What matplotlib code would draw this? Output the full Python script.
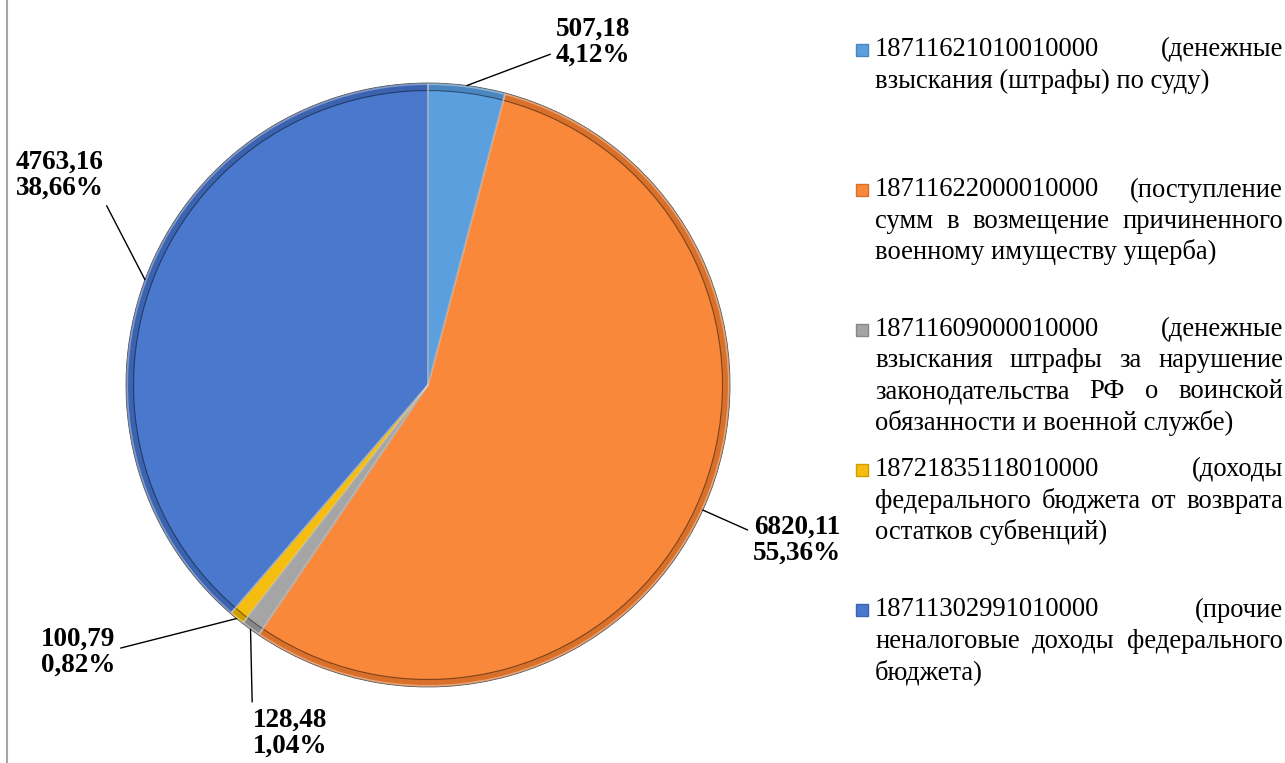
import matplotlib
matplotlib.use("Agg")
import matplotlib.pyplot as plt
from matplotlib.lines import Line2D
from matplotlib.patches import Rectangle
import numpy as np

plt.rcParams['font.family'] = ['Liberation Serif', 'DejaVu Serif']

# данные
codes = ['18711621010010000', '18711622000010000', '18711609000010000',
         '18721835118010000', '18711302991010000']
values = [507.18, 6820.11, 128.48, 100.79, 4763.16]
percents = ['4,12%', '55,36%', '1,04%', '0,82%', '38,66%']
colors = ['#5b9fdf', '#f9883a', '#a5a5a5', '#f5bd0f', '#4a78cc']
dark = ['#4a86c0', '#d9702a', '#888888', '#d09e00', '#3b63b0']

# строки легенды (как в оригинале, с переносами)
legend_lines = [
    [codes[0] + ' (денежные', 'взыскания (штрафы) по суду)'],
    [codes[1] + ' (поступление', 'сумм в возмещение причиненного',
     'военному имуществу ущерба)'],
    [codes[2] + ' (денежные', 'взыскания штрафы за нарушение',
     'законодательства РФ о воинской', 'обязанности и военной службе)'],
    [codes[3] + ' (доходы', 'федерального бюджета от возврата',
     'остатков субвенций)'],
    [codes[4] + ' (прочие', 'неналоговые доходы федерального',
     'бюджета)'],
]
legend_y = [50, 190, 330, 470, 610]

W, H = 1285, 763
cx, cy, R = 428, 385, 302

fig = plt.figure(figsize=(W / 100, H / 100), dpi=100)
ax = fig.add_axes([0, 0, 1, 1])

# пирог: подложка + основной цвет (имитация фаски)
ax.pie(values, colors=dark, startangle=90, counterclock=False, radius=1.0,
       wedgeprops=dict(edgecolor='#555555', linewidth=0.6))
ax.pie(values, colors=colors, startangle=90, counterclock=False,
       radius=0.975, wedgeprops=dict(edgecolor=(0, 0, 0, 0.45), linewidth=0.8))
ax.pie(values, colors=['none'] * 5, startangle=90, counterclock=False, radius=0.996,
       wedgeprops=dict(edgecolor=(1, 1, 1, 0.35), linewidth=1.2, fill=False))

ax.set_aspect('auto')
ax.set_xlim(-cx / R, (W - cx) / R)
ax.set_ylim(-(H - cy) / R, cy / R)
ax.axis('off')


def px(x, y):
    return (x - cx) / R, (cy - y) / R


# подписи данных
label_pos = [(593, 42), (797, 540), (290, 733), (78, 652), (60, 175)]
anchor_rel = [(0.0, 0.3), (0.0, 0.65), (0.0, 0.6), (1.0, 0.55), (1.0, 0.0)]
total = sum(values)
ang = 90.0
for i, v in enumerate(values):
    span = 360.0 * v / total
    mid = np.deg2rad(ang - span / 2)
    ang -= span
    xy = (np.cos(mid), np.sin(mid))
    txt = f"{v:.2f}".replace('.', ',') + "\n" + percents[i]
    ax.annotate(txt, xy=xy, xytext=px(*label_pos[i]), ha='center', va='center',
                fontsize=19.5, fontweight='bold', linespacing=1.05,
                arrowprops=dict(arrowstyle='-', color='black', lw=1,
                                relpos=anchor_rel[i], shrinkA=2, shrinkB=0))

# вертикальная линия слева
fig.add_artist(Line2D([7 / W, 7 / W], [0, 1], color='#a6a6a6', lw=1.5))

# легенда с выравниванием по ширине
renderer = fig.canvas.get_renderer()
x_left, x_right, step = 875, 1283, 31
for k, lines in enumerate(legend_lines):
    y0 = legend_y[k]
    fig.add_artist(Rectangle((856 / W, 1 - (y0 + 6) / H), 12 / W, 12 / H,
                             facecolor=colors[k], edgecolor=dark[k], lw=1,
                             transform=fig.transFigure))
    for j, line in enumerate(lines):
        yy = 1 - (y0 + j * step) / H
        if j == len(lines) - 1:
            fig.text(x_left / W, yy, line, fontsize=19.2, ha='left', va='center')
            continue
        words = line.split(' ')
        texts = [fig.text(0, yy, w, fontsize=19.2, ha='left', va='center') for w in words]
        widths = [t.get_window_extent(renderer).width for t in texts]
        gap = (x_right - x_left - sum(widths)) / (len(words) - 1)
        xpos = x_left
        for t, w in zip(texts, widths):
            t.set_x(xpos / W)
            xpos += w + gap

fig.savefig('out.png', dpi=100)
